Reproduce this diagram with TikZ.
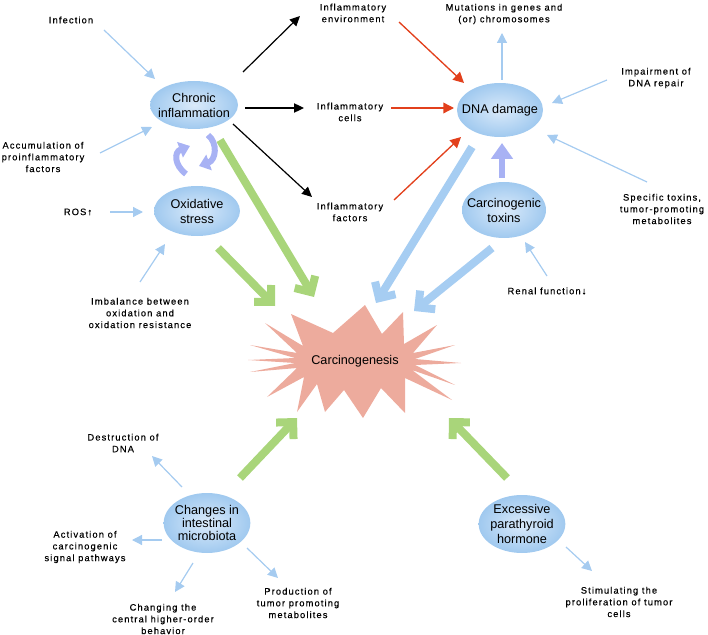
\documentclass[tikz,border=0pt]{standalone}
\usepackage{fontspec}
\setmainfont{Liberation Sans}
\newfontfamily\labfont[LetterSpace=12,FakeBold=0.3]{Liberation Sans}
\usetikzlibrary{arrows.meta,shapes.geometric,calc}
\definecolor{thinblue}{RGB}{165,203,240}
\definecolor{thickblue}{RGB}{166,205,242}
\definecolor{leafgreen}{RGB}{169,213,122}
\definecolor{redarr}{RGB}{226,64,28}
\definecolor{lavender}{RGB}{168,178,244}
\definecolor{starpink}{RGB}{237,171,157}
\definecolor{ellin}{RGB}{218,234,250}
\definecolor{ellout}{RGB}{160,201,239}
\begin{document}
\begin{tikzpicture}[x=0.75pt,y=-0.75pt,
 bubble/.style={ellipse, shade, inner color=ellin, outer color=ellout, inner sep=0pt},
 bubtext/.style={align=center, inner sep=0pt, font=\fontsize{9.5}{11.25}\selectfont},
 lab/.style={align=center, inner sep=0pt, font=\labfont\fontsize{7}{8.8}\selectfont},
 thinarr/.style={thinblue, line width=0.9pt, -{Triangle[length=7.5pt,width=7.5pt]}},
 blkarr/.style={black, line width=0.9pt, -{Triangle[length=7.5pt,width=7pt]}},
 redline/.style={redarr, line width=1pt, -{Triangle[length=8pt,width=8pt]}},
 fatgreen/.style={leafgreen, line width=6pt, -{Straight Barb[length=9pt,width=18pt]}},
 fatblue/.style={thickblue, line width=6pt, -{Straight Barb[length=9pt,width=18pt]}},
 lavarr/.style={lavender, line width=4.5pt, -{Triangle[length=8pt,width=12pt]}}
]
\useasboundingbox (0,0) rectangle (708,635);

% starburst
\fill[starpink] (365,305) -- (382,334) -- (403,312) -- (404,344) -- (437,325) -- (413,353)
 -- (455,345) -- (415,359) -- (461,363) -- (415,365) -- (455,385) -- (412,370) -- (452,400)
 -- (405,378) -- (405,413) -- (381,388) -- (363,418) -- (344,390) -- (325,412) -- (317,384)
 -- (297,412) -- (304,377) -- (267,397) -- (297,368) -- (250,372) -- (295,363) -- (248,360)
 -- (295,358) -- (250,345) -- (297,353) -- (265,323) -- (303,346) -- (291,314) -- (333,333) -- cycle;
\node[bubtext] (carc) at (355,361) {Carcinogenesis};

% bubbles
\node[bubble, minimum width=66pt, minimum height=36pt, label={[bubtext]center:{Chronic\\inflammation}}] (CI) at (194,105) {};
\node[bubble, minimum width=64.5pt, minimum height=37.5pt, label={[bubtext]center:{Oxidative\\stress}}] (OS) at (197,211) {};
\node[bubble, minimum width=64.5pt, minimum height=40.5pt, label={[bubtext]center:{DNA damage}}] (DNA) at (500,110) {};
\node[bubble, minimum width=63pt, minimum height=42pt, label={[bubtext]center:{Carcinogenic\\toxins}}] (CT) at (504,210) {};
\node[bubble, minimum width=65pt, minimum height=45pt, label={[bubtext, font=\fontsize{9.5}{10}\selectfont]center:{Changes in\\intestinal\\microbiota}}] (CM) at (207,523) {};
\node[bubble, minimum width=65pt, minimum height=43.5pt, label={[bubtext]center:{Excessive\\parathyroid\\hormone}}] (EP) at (522,524) {};

% labels
\node[lab] (inf) at (71,20) {Infection};
\node[lab] (acc) at (43,157) {Accumulation of\\proinflammatory\\factors};
\node[lab] (ros) at (78,212) {ROS↑};
\node[lab] (imb) at (140,313) {Imbalance between\\oxidation and\\oxidation resistance};
\node[lab] (ienv) at (353,13) {Inflammatory\\environment};
\node[lab] (icell) at (350,112) {Inflammatory\\cells};
\node[lab] (ifac) at (350,212) {Inflammatory\\factors};
\node[lab] (mut) at (504,14) {Mutations in genes and\\(or) chromosomes};
\node[lab] (imp) at (656,78) {Impairment of\\DNA repair};
\node[lab] (spec) at (662,209) {Specific toxins,\\tumor-promoting\\metabolites};
\node[lab] (renal) at (547,291) {Renal function↓};
\node[lab] (dest) at (123,443) {Destruction of\\DNA};
\node[lab] (act) at (85,547) {Activation of\\carcinogenic\\signal pathways};
\node[lab] (chg) at (163,619) {Changing the\\central higher-order\\behavior};
\node[lab] (prod) at (298,603) {Production of\\tumor promoting\\metabolites};
\node[lab] (stim) at (619,602) {Stimulating the\\proliferation of tumor\\cells};

% thin blue arrows
\draw[thinarr] ([shift={(33,10)}]inf.center) -- ([shift={(-39,-26)}]CI.center);
\draw[thinarr] ([shift={(57,-4)}]acc.center) -- ([shift={(-42,22)}]CI.center);
\draw[thinarr] ([shift={(32,0)}]ros.center) -- ([shift={(-54,1)}]OS.center);
\draw[thinarr] ([shift={(0,-31)}]imb.center) -- ([shift={(-32,33)}]OS.center);
\draw[thinarr] ([shift={(2,-30)}]DNA.center) -- ([shift={(-2,19)}]mut.center);
\draw[thinarr] ([shift={(-49,2)}]imp.center) -- ([shift={(52,-7)}]DNA.center);
\draw[thinarr] ([shift={(-15,-27)}]spec.center) -- ([shift={(47,25)}]DNA.center);
\draw[thinarr] ([shift={(0,-15)}]renal.center) -- ([shift={(21,32)}]CT.center);
\draw[thinarr] ([shift={(-25,-36)}]CM.center) -- ([shift={(29,13)}]dest.center);
\draw[thinarr] ([shift={(-45,17)}]CM.center) -- ([shift={(47,-7)}]act.center);
\draw[thinarr] ([shift={(-14,40)}]CM.center) -- ([shift={(12,-27)}]chg.center);
\draw[thinarr] ([shift={(40,25)}]CM.center) -- ([shift={(-20,-25)}]prod.center);
\draw[thinarr] ([shift={(44,23)}]EP.center) -- ([shift={(-27,-31)}]stim.center);

% black arrows
\draw[blkarr] ([shift={(49,-33)}]CI.center) -- ([shift={(-53,3)}]ienv.center);
\draw[blkarr] ([shift={(51,3)}]CI.center) -- ([shift={(-46,-4)}]icell.center);
\draw[blkarr] ([shift={(39,19)}]CI.center) -- ([shift={(-38,-15)}]ifac.center);

% red arrows
\draw[redline] ([shift={(46,9)}]ienv.center) -- ([shift={(-36,-27)}]DNA.center);
\draw[redline] ([shift={(41,-4)}]icell.center) -- ([shift={(-46,-2)}]DNA.center);
\draw[redline] ([shift={(44,-12)}]ifac.center) -- ([shift={(-39,27)}]DNA.center);

% thick arrows
\draw[fatgreen] ([shift={(26,35)}]CI.center) -- ([shift={(-41,-64)}]carc.center);
\draw[fatgreen] ([shift={(21,37)}]OS.center) -- ([shift={(-80,-55)}]carc.center);
\draw[fatgreen] ([shift={(33,-45)}]CM.center) -- ([shift={(-58,57)}]carc.center);
\draw[fatgreen] ([shift={(-15,-46)}]EP.center) -- ([shift={(94,57)}]carc.center);
\draw[fatblue] ([shift={(-28,37)}]DNA.center) -- ([shift={(21,-58)}]carc.center);
\draw[fatblue] ([shift={(-12,38)}]CT.center) -- ([shift={(59,-50)}]carc.center);

% lavender arrows
\draw[lavender, line width=4pt, -{Triangle[length=12pt,width=16pt]}] ([shift={(-2,-32)}]CT.center) -- ([shift={(2,33)}]DNA.center);
\draw[lavarr] ([shift={(-11,-37)}]OS.center) .. controls ([shift={(-23,-46)}]OS.center) and ([shift={(-20,47)}]CI.center) .. ([shift={(-4,41)}]CI.center);
\draw[lavarr] ([shift={(14,30)}]CI.center) .. controls ([shift={(24,38)}]CI.center) and ([shift={(19,-51)}]OS.center) .. ([shift={(2,-45)}]OS.center);
\end{tikzpicture}
\end{document}
